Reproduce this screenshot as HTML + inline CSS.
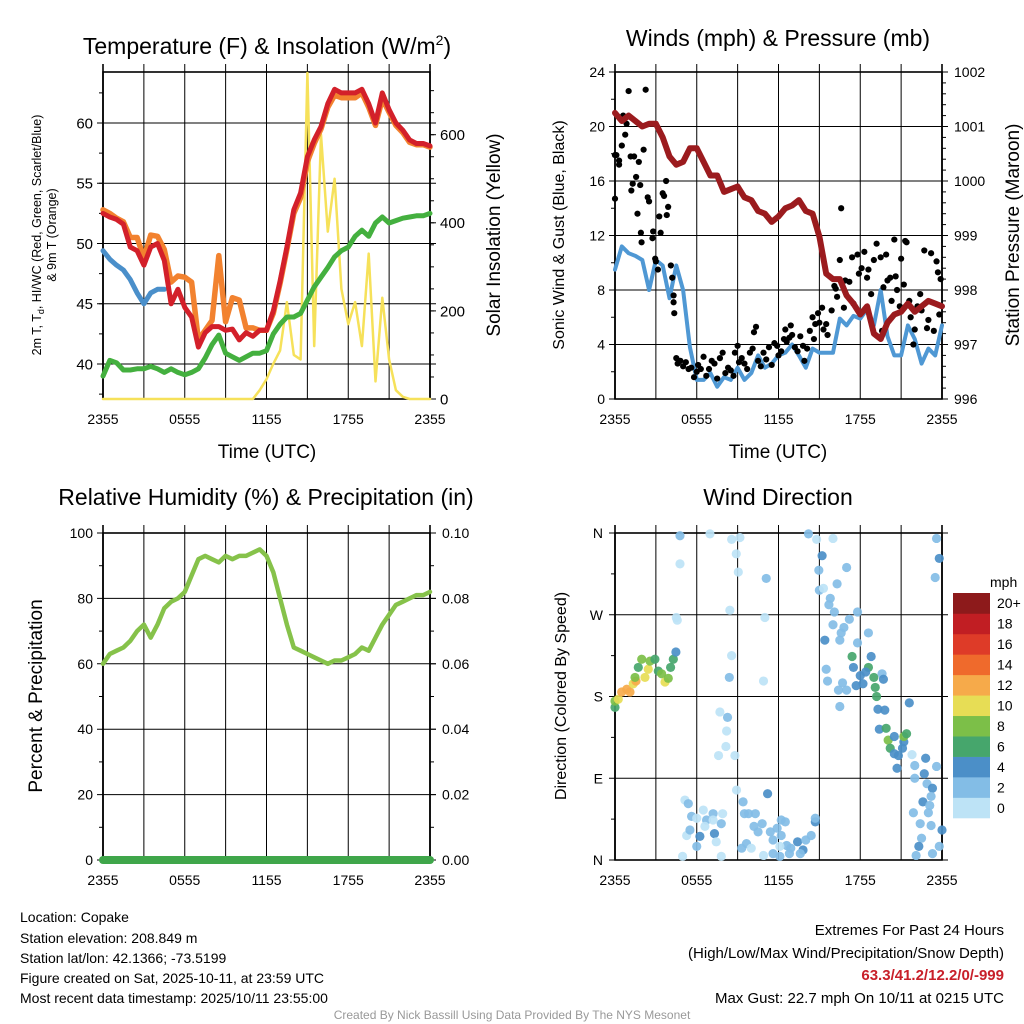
<!DOCTYPE html>
<html><head><meta charset="utf-8"><style>
html,body{margin:0;padding:0;background:#fff;}
svg{display:block;font-family:"Liberation Sans",Arial,sans-serif;}
</style></head><body>
<svg id="c" width="1024" height="1024" viewBox="0 0 1024 1024" xmlns="http://www.w3.org/2000/svg">
<g id="tl"></g>
<g id="tr"></g>
<g id="bl"></g>
<g id="br"></g>
<g id="txt">
<text x="267" y="54" font-size="23" text-anchor="middle">Temperature (F) &amp; Insolation (W/m<tspan font-size="14" dy="-9">2</tspan><tspan dy="9">)</tspan></text>
<text x="778" y="46" font-size="23" text-anchor="middle">Winds (mph) &amp; Pressure (mb)</text>
<text x="266" y="505" font-size="23" text-anchor="middle">Relative Humidity (%) &amp; Precipitation (in)</text>
<text x="778" y="505" font-size="23" text-anchor="middle">Wind Direction</text>
<text x="267" y="458" font-size="19" text-anchor="middle">Time (UTC)</text>
<text x="778" y="458" font-size="19" text-anchor="middle">Time (UTC)</text>
<text transform="translate(41,235) rotate(-90)" font-size="12.5" text-anchor="middle">2m T, T<tspan font-size="9" dy="3">d</tspan><tspan dy="-3">, HI/WC (Red, Green, Scarlet/Blue)</tspan></text>
<text transform="translate(56,235) rotate(-90)" font-size="12.5" text-anchor="middle">&amp; 9m T (Orange)</text>
<text transform="translate(500,235) rotate(-90)" font-size="19" text-anchor="middle">Solar Insolation (Yellow)</text>
<text transform="translate(564,235) rotate(-90)" font-size="16" text-anchor="middle">Sonic Wind &amp; Gust (Blue, Black)</text>
<text transform="translate(1019,235) rotate(-90)" font-size="19" text-anchor="middle">Station Pressure (Maroon)</text>
<text transform="translate(42,696) rotate(-90)" font-size="19" text-anchor="middle">Percent &amp; Precipitation</text>
<text transform="translate(566,696) rotate(-90)" font-size="16" text-anchor="middle">Direction (Colored By Speed)</text>
<g font-size="14">
<text x="20" y="922">Location: Copake</text>
<text x="20" y="943">Station elevation: 208.849 m</text>
<text x="20" y="963">Station lat/lon: 42.1366; -73.5199</text>
<text x="20" y="983">Figure created on Sat, 2025-10-11, at 23:59 UTC</text>
<text x="20" y="1003">Most recent data timestamp: 2025/10/11 23:55:00</text>
</g>
<g font-size="15" text-anchor="end">
<text x="1004" y="935">Extremes For Past 24 Hours</text>
<text x="1004" y="958">(High/Low/Max Wind/Precipitation/Snow Depth)</text>
<text x="1004" y="980" fill="#c8202a" font-weight="bold">63.3/41.2/12.2/0/-999</text>
<text x="1004" y="1003">Max Gust: 22.7 mph On 10/11 at 0215 UTC</text>
</g>
<text x="512" y="1019" font-size="12" fill="#999" text-anchor="middle">Created By Nick Bassill Using Data Provided By The NYS Mesonet</text>
</g>
</svg>
<script>
// ---- data ----
const hours = [0,0.5,1,1.5,2,2.5,3,3.5,4,4.5,5,5.5,6,6.5,7,7.5,8,8.5,9,9.5,10,10.5,11,11.5,12,12.5,13,13.5,14,14.5,15,15.5,16,16.5,17,17.5,18,18.5,19,19.5,20,20.5,21,21.5,22,22.5,23,23.5,24];
const tempRed = [52.5,52.2,52.0,51.6,49.7,49.4,48.2,49.7,50.0,48.6,45.0,46.2,44.7,43.9,41.4,42.6,43.1,43.1,42.8,42.9,42.0,42.6,42.3,42.8,42.8,44.4,46.9,49.7,52.8,54.2,57.2,58.6,59.7,61.6,62.8,62.5,62.5,62.5,62.8,61.6,60.0,62.5,61.1,60.0,59.4,58.6,58.3,58.3,58.1];
const tempOrange = [52.8,52.5,52.1,51.8,50.5,50.5,48.8,50.7,50.6,49.5,46.8,47.3,47.2,46.8,42.0,42.8,43.6,49.0,43.5,45.5,45.3,43.0,43.0,42.8,42.8,44.2,46.7,49.5,52.5,53.8,56.8,58.3,59.5,61.3,62.3,62.1,62.1,62.1,62.5,61.3,59.8,62.0,60.9,59.8,59.2,58.4,58.2,58.2,58.0];
const tempBlue = [49.4,48.7,48.2,47.8,47.0,45.9,45.0,45.9,46.2,46.2];
const dewGreen = [39.0,40.3,40.1,39.5,39.5,39.6,39.6,39.8,39.6,39.3,39.6,39.3,39.1,39.3,39.6,40.5,41.6,42.4,40.9,40.6,40.3,40.6,40.9,40.9,41.1,42.5,43.3,43.9,43.9,44.2,45.3,46.4,47.2,48.0,48.9,49.4,49.7,50.6,51.1,50.6,51.7,52.2,51.7,51.9,52.1,52.2,52.3,52.3,52.5];
const solar = [0,0,0,0,0,0,0,0,0,0,0,0,0,0,0,0,0,0,0,0,0,0,0,20,45,80,110,220,100,90,740,120,600,380,500,250,170,220,120,330,40,230,90,20,5,0,0,0,0];
const windBlue = [9.5,11.2,10.7,10.5,10.2,8.0,10.2,9.8,7.4,9.8,8.0,3.8,1.4,1.4,1.9,0.9,1.6,1.4,2.3,1.4,1.9,3.2,2.3,2.6,3.2,3.4,4.0,3.2,2.3,3.7,3.4,3.4,3.4,5.9,5.4,6.1,5.9,6.6,5.4,8.0,4.6,3.2,3.2,5.4,4.4,2.6,3.7,3.2,5.4];
const pressure = [1001.25,1001.1,1001.2,1001.1,1001.0,1001.05,1001.05,1000.8,1000.45,1000.3,1000.35,1000.6,1000.6,1000.35,1000.1,1000.1,999.8,999.85,999.9,999.7,999.65,999.45,999.4,999.25,999.35,999.5,999.55,999.65,999.45,999.4,998.98,998.3,998.2,998.2,997.9,997.75,997.55,997.7,997.2,997.1,997.4,997.55,997.6,997.75,997.6,997.7,997.8,997.75,997.7];
const rh = [60,63,64,65,67,70,72,68,72,77,79,80,82,87,92,93,92,91,93,92,93,93,94,95,93,88,80,72,65,64,63,62,61,60,61,61,62,63,65,64,68,72,75,78,79,80,81,81,82];
const precip = [0,0,0,0,0,0,0,0,0,0,0,0,0,0,0,0,0,0,0,0,0,0,0,0,0,0,0,0,0,0,0,0,0,0,0,0,0,0,0,0,0,0,0,0,0,0,0,0,0];
const gustTime = [0,0,0.1,0.3,0.3,0.5,0.6,0.75,0.85,1.0,1.15,1.2,1.3,1.4,1.55,1.65,1.75,1.85,1.9,1.95,2.1,2.25,2.4,2.5,2.75,2.8,2.95,3.0,3.15,3.25,3.35,3.5,3.6,3.75,3.8,3.9,4.1,4.2,4.3,4.35,4.3,4.5,4.6,4.8,5.0,5.2,5.4,5.6,5.8,6.0,6.1,6.3,6.5,6.7,6.9,7.1,7.3,7.5,7.7,7.9,8.1,8.3,8.5,8.7,8.8,9.0,9.1,9.3,9.5,9.7,9.9,10.1,10.2,10.35,10.5,10.7,10.9,11.1,11.3,11.5,11.7,11.9,12.0,12.2,12.4,12.5,12.6,12.8,12.9,13.0,13.2,13.4,13.6,13.8,13.9,14.1,14.3,14.5,14.6,14.7,14.9,15.0,15.2,15.3,15.5,15.6,15.9,16.1,16.2,16.5,16.3,16.6,16.8,16.9,17.2,17.4,17.5,17.8,17.9,18.1,18.3,18.5,18.6,18.8,19.0,19.2,19.5,19.6,19.7,19.9,20.0,20.2,20.3,20.5,20.6,20.7,20.9,21.0,21.2,21.3,21.4,21.6,21.7,21.9,22.0,22.2,22.4,22.5,22.7,22.9,23.0,23.2,23.4,23.6,23.7,23.8,23.9];
const gustVal = [14.7,17.9,17.9,17.5,17.2,18.6,20.8,19.4,20.2,22.6,17.8,15.3,15.8,17.8,16.3,13.6,17.4,15.7,12.2,11.5,18.3,22.7,14.8,14.5,11.8,12.3,10.3,10.1,9.5,13.4,12.2,15.1,14.9,16.0,13.5,14.1,9.8,8.9,7.6,6.3,7.1,3.0,2.6,2.8,2.4,2.7,2.2,2.3,1.6,2.0,2.5,2.2,3.1,1.7,2.2,2.8,2.6,1.5,3.0,3.4,1.9,2.3,2.1,1.7,3.4,3.9,2.7,3.0,2.6,2.2,3.4,3.7,4.9,5.3,2.8,2.4,3.4,2.9,3.8,2.5,4.1,3.9,3.2,3.5,4.4,5.1,4.2,4.5,5.4,4.7,3.8,3.5,4.6,3.9,2.8,3.7,5.0,6.0,4.4,5.5,6.3,5.6,6.7,5.1,5.5,4.7,6.5,8.3,8.1,10.2,7.5,14.0,6.7,8.7,8.6,10.4,7.0,10.6,9.2,9.6,10.8,8.9,9.5,7.7,10.2,11.4,10.4,5.0,8.2,10.6,8.7,8.9,7.2,11.7,9.0,8.0,6.8,10.3,8.4,11.6,11.5,7.2,6.0,4.0,5.1,6.8,7.7,6.5,10.9,5.2,5.8,10.7,5.0,10.1,9.3,6.2,8.8];
const dirTime = [0,0,0.24,0.49,0.86,1.1,1.34,1.54,1.47,1.71,1.96,2.2,2.44,2.57,2.93,3.18,3.42,3.67,3.91,4.08,4.28,4.47,
 4.5,4.57,4.77,4.77,6.97,8.56,9.17,8.9,9.05,8.43,8.56,8.39,11.1,11.0,10.9,7.7,8.26,8.19,8.14,7.6,8.8,8.92,
 5.13,5.38,5.62,5.26,5.5,6.23,6.0,6.48,6.72,6.6,7.2,7.3,7.43,7.8,7.9,7.2,4.96,7.8,6.0,
 9.4,9.5,9.8,10.3,10.2,10.5,10.8,9.65,9.3,10.0,10.9,11.2,11.4,11.6,11.9,12.2,12.5,12.2,12.6,12.9,13.4,13.8,14.0,14.4,14.7,14.7,12.1,12.8,13.6,11.6,12.1,
 14.2,14.8,16.0,15.2,14.96,15.0,15.3,16.3,17.0,15.8,15.7,16.1,17.8,17.2,16.0,16.8,16.6,18.6,15.4,16.5,17.8,
 17.4,18.8,17.5,18.6,18.0,18.4,19.0,19.6,19.7,18.2,17.7,17.0,16.7,16.4,19.1,19.2,15.5,15.6,16.5,
 19.3,19.8,19.4,19.9,20.05,20.2,20.5,20.5,20.8,20.7,21.2,21.2,21.4,21.6,21.1,21.8,22.0,22.0,22.7,22.8,23.6,22.9,23.3,23.2,22.6,23.1,23.0,21.9,22.4,23.2,24.0,22.5,22.3,22.1,23.3,23.8,23.6,23.8,23.5];
const dirDeg = [168,175,177,185,188,185,194,197,201,212,221,201,210,219,221,208,205,196,200,212,221,229,
 267,264,357,326,359,353,355,337,317,275,225,201,310,267,197,163,157,142,125,115,115,77,
 66,62,48,27,33,26,15,55,44,37,51,29,20,40,51,44,4,4,46,
 64,51,51,51,37,31,40,18,13,13,5,73,31,22,35,44,42,27,16,13,20,11,22,27,42,46,4,7,7,7,15,
 359,353,354,335,319,297,299,304,322,288,281,273,273,265,259,256,250,250,242,242,239,
 224,224,212,212,203,207,201,205,199,194,192,187,195,187,190,180,210,197,169,
 166,165,144,145,132,123,136,117,115,101,130,136,139,173,123,116,104,90,95,112,103,84,79,70,64,60,52,52,40,38,33,24,15,5,7,15,354,332,311];
const dirSpeed = [6,8,10,12,12,12,10,13,8,6,8,10,10,8,6,6,8,10,8,6,6,4,
 1,1,3,1,1,1,1,1,1,1,1,3,3,1,1,1,3,1,1,1,1,1,
 1,3,3,1,3,4,3,1,3,1,3,4,1,3,1,1,1,1,1,
 3,3,3,3,3,3,3,3,3,1,1,4,3,3,3,3,3,3,3,3,4,4,3,3,4,3,3,3,3,3,1,
 3,1,1,4,3,3,1,3,3,3,3,3,3,3,3,3,3,3,4,3,3,
 6,4,4,6,4,4,6,3,4,4,4,3,3,3,6,6,3,3,3,
 4,4,4,6,8,6,4,4,4,4,4,8,6,4,4,1,3,3,4,4,3,3,4,3,4,3,3,3,3,3,4,3,4,3,3,3,3,4,3];
const speedBins = ["0","2","4","6","8","10","12","14","16","18","20+"];
const speedColors = ["#bde3f6","#83bde6","#4b8fc8","#46a66c","#7cbf48","#e7dd55","#f6aa4a","#ef6a2c","#de3b28","#c11e23","#8d1a1b"];

// ---- helpers ----
const NS="http://www.w3.org/2000/svg";
function mk(parent,tag,attrs){const e=document.createElementNS(NS,tag);for(const k in attrs)e.setAttribute(k,attrs[k]);parent.appendChild(e);return e;}
const W=327;
function xs(left){return h=>left+h/24*W;}
function lin(d0,d1,p0,p1){return v=>p0+(v-d0)/(d1-d0)*(p1-p0);}

function frame(g,left,top){
  for(let i=0;i<=8;i++){const x=left+i*W/8;
    const l=mk(g,'line',{x1:x,y1:top-8,x2:x,y2:top+W,stroke:'#000','stroke-width':(i==0||i==8)?1.6:1});
    }
  const r=mk(g,'rect',{x:left,y:top,width:W,height:W,fill:'none',stroke:'#000','stroke-width':1.6});
  
  const labs=['2355','0555','1155','1755','2355'];
  labs.forEach((s,i)=>{const t=mk(g,'text',{x:left+i*W/4,y:top+W+25,'font-size':14,'text-anchor':'middle'});t.textContent=s;
    });
}
function hgrid(g,left,y){const l=mk(g,'line',{x1:left-6,y1:y,x2:left+W+6,y2:y,stroke:'#000','stroke-width':1});
  }
function ylab(g,x,y,s,anchor,fs){fs=fs||14;const t=mk(g,'text',{x:x,y:y+fs*0.36,'font-size':fs,'text-anchor':anchor});t.textContent=s;
  }
function minor(g,x,y,dir){mk(g,'line',{x1:x,y1:y,x2:x+dir*4,y2:y,stroke:'#000','stroke-width':1});}
function path(g,xsArr,ys,xf,yf,color,w,name){
  let d='';xsArr.forEach((h,i)=>{if(ys[i]==null)return;d+=(d?'L':'M')+xf(h).toFixed(1)+','+yf(ys[i]).toFixed(1);});
  const p=mk(g,'path',{d:d,fill:'none',stroke:color,'stroke-width':w,'stroke-linejoin':'round','stroke-linecap':'round'});
  return p;}

// ---- top-left ----
(function(){
  const g=document.getElementById('tl'),top=72,left=103,xf=xs(left);
  const yf=lin(40,60,364,123), sf=lin(0,600,399,134.7);
  frame(g,left,top);
  [40,45,50,55,60].forEach(v=>{hgrid(g,left,yf(v));ylab(g,left-10,yf(v),String(v),'end',15);});
  for(let v=37.5;v<64;v+=2.5)minor(g,left,yf(v),-1);
  [0,200,400,600].forEach(v=>{ylab(g,left+W+10,sf(v),String(v),'start',15);mk(g,'line',{x1:left+W,y1:sf(v),x2:left+W+6,y2:sf(v),stroke:'#000'});});
  for(let v=50;v<=700;v+=50)minor(g,left+W,sf(v),1);
  path(g,hours,solar,xf,sf,'#f6e15a',2.5,'solar-line');
  path(g,hours,dewGreen,xf,yf,'#44b03f',5,'dewpoint-line');
  path(g,hours,tempOrange,xf,yf,'#f2822f',5.5,'temp-9m-line');
  path(g,hours.slice(0,tempBlue.length),tempBlue,xf,yf,'#4a8fca',5,'windchill-line');
  path(g,hours,tempRed,xf,yf,'#d3202a',5,'temp-2m-line');
})();

// ---- top-right ----
(function(){
  const g=document.getElementById('tr'),top=72,left=615,xf=xs(left);
  const yf=lin(0,24,399,72), pf=lin(996,1002,399,72);
  frame(g,left,top);
  [0,4,8,12,16,20,24].forEach(v=>{hgrid(g,left,yf(v));ylab(g,left-10,yf(v),String(v),'end');});
  for(let v=2;v<24;v+=4)minor(g,left,yf(v),-1);
  [996,997,998,999,1000,1001,1002].forEach(v=>{ylab(g,left+W+12,pf(v),String(v),'start');mk(g,'line',{x1:left+W,y1:pf(v),x2:left+W+6,y2:pf(v),stroke:'#000'});});
  for(let v=996.2;v<1002;v+=0.2)minor(g,left+W,pf(v),1);
  path(g,hours,windBlue,xf,yf,'#4f98d4',4,'sonic-wind-line');
  gustTime.forEach((h,i)=>{const c=mk(g,'circle',{cx:xf(h),cy:yf(gustVal[i]),r:3.1,fill:'#000'});
    });
  path(g,hours,pressure,xf,pf,'#9b1b1e',6,'pressure-line');
})();

// ---- bottom-left ----
(function(){
  const g=document.getElementById('bl'),top=533,left=103,xf=xs(left);
  const yf=lin(0,100,860,533), pf=lin(0,0.1,860,533);
  frame(g,left,top);
  [0,20,40,60,80,100].forEach(v=>{hgrid(g,left,yf(v));ylab(g,left-10,yf(v),String(v),'end');});
  for(let v=10;v<100;v+=20)minor(g,left,yf(v),-1);
  ['0.00','0.02','0.04','0.06','0.08','0.10'].forEach(s=>{const v=parseFloat(s);ylab(g,left+W+12,pf(v),s,'start');mk(g,'line',{x1:left+W,y1:pf(v),x2:left+W+6,y2:pf(v),stroke:'#000'});});
  for(let v=0.01;v<0.1;v+=0.02)minor(g,left+W,pf(v),1);
  path(g,hours,precip,xf,pf,'#3fa64a',8,'precip-line');
  path(g,hours,rh,xf,yf,'#86c24a',4.5,'rh-line');
})();

// ---- bottom-right ----
(function(){
  const g=document.getElementById('br'),top=533,left=615,xf=xs(left);
  const yf=lin(0,360,860,533);
  frame(g,left,top);
  const dl=['N','E','S','W','N'];
  [0,90,180,270,360].forEach((v,i)=>{hgrid(g,left,yf(v));ylab(g,left-12,yf(v),dl[i],'end');});
  for(let v=45;v<360;v+=90)minor(g,left,yf(v),-1);
  dirTime.forEach((h,i)=>{const b=Math.min(10,Math.floor(dirSpeed[i]/2));
    const c=mk(g,'circle',{cx:xf(h),cy:yf(dirDeg[i]),r:4.6,fill:speedColors[b],'fill-opacity':0.92});
    });
  const cb=mk(g,'g',{});
  
  const bh=225/11;
  speedColors.forEach((col,i)=>{const y=818-(i+1)*bh;
    const r=mk(cb,'rect',{x:953,y:y,width:37,height:bh+0.3,fill:col});
    
    const t=mk(cb,'text',{x:997,y:y+bh/2+5,'font-size':14});t.textContent=speedBins[i];
    });
  const u=mk(cb,'text',{x:990,y:587,'font-size':14});u.textContent='mph';
  
})();
</script>
</body></html>
